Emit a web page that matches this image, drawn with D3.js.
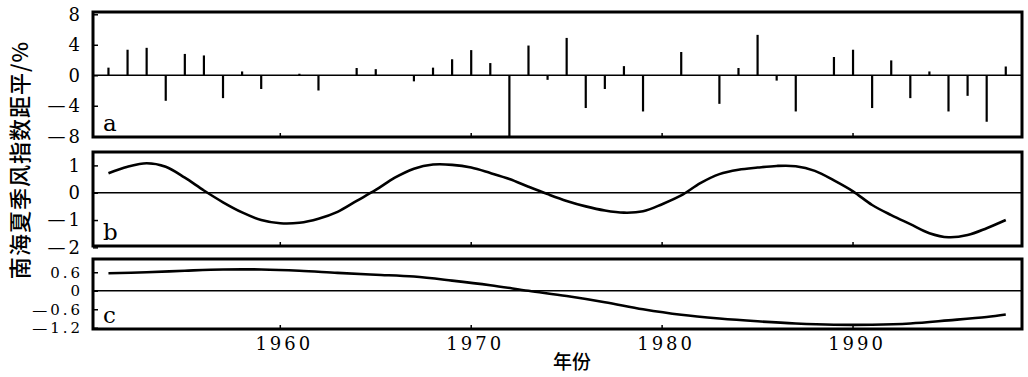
<!DOCTYPE html>
<html>
<head>
<meta charset="utf-8">
<script src="https://cdn.jsdelivr.net/npm/d3@7"></script>
<style>
  html, body { margin: 0; padding: 0; background: #fff; }
  svg { display: block; }
  .num { font-family: "DejaVu Serif", "Liberation Serif", serif; font-size: 18px; fill: #000; letter-spacing: 3px; }
  .cjk { font-family: "Noto Sans CJK SC", sans-serif; font-weight: 500; fill: #000; }
</style>
</head>
<body>
<script>
// panel a: yearly anomaly bars (%)
const barYears = [1951, 1952, 1953, 1954, 1955, 1956, 1957, 1958, 1959, 1960,
  1961, 1962, 1963, 1964, 1965, 1966, 1967, 1968, 1969, 1970,
  1971, 1972, 1973, 1974, 1975, 1976, 1977, 1978, 1979, 1980,
  1981, 1982, 1983, 1984, 1985, 1986, 1987, 1988, 1989, 1990,
  1991, 1992, 1993, 1994, 1995, 1996, 1997, 1998];
const barValues = [1.0, 3.35, 3.6, -3.35, 2.8, 2.6, -3.0, 0.5, -1.8, -0.1,
  0.2, -2.0, 0, 0.95, 0.8, 0, -0.8, 1.0, 2.1, 3.3,
  1.6, -8.0, 3.9, -0.6, 4.9, -4.3, -1.8, 1.2, -4.75, 0,
  3.05, 0, -3.75, 0.95, 5.3, -0.7, -4.75, 0, 2.4, 3.35,
  -4.3, 1.95, -3.0, 0.5, -4.75, -2.7, -6.1, 1.15];

// panel b: interdecadal component
const bYears = barYears;
const bValues = [0.71, 0.95, 1.08, 0.95, 0.55, 0.08, -0.35, -0.72, -1.0, -1.12,
  -1.1, -0.95, -0.7, -0.3, 0.1, 0.55, 0.88, 1.03, 1.02, 0.92,
  0.72, 0.5, 0.22, -0.05, -0.3, -0.5, -0.65, -0.73, -0.68, -0.42,
  -0.1, 0.35, 0.68, 0.84, 0.92, 0.98, 0.97, 0.8, 0.45, 0.05,
  -0.45, -0.82, -1.15, -1.48, -1.63, -1.55, -1.3, -1.0];

// panel c: long-term trend
const cYears = [1951, 1953, 1955, 1957, 1959, 1961, 1963, 1965, 1967, 1969,
  1971, 1973, 1975, 1977, 1979, 1981, 1983, 1985, 1987, 1989,
  1991, 1993, 1995, 1997, 1998];
const cValues = [0.57, 0.6, 0.65, 0.69, 0.69, 0.65, 0.58, 0.52, 0.46, 0.33,
  0.18, 0.0, -0.17, -0.37, -0.6, -0.78, -0.9, -0.99, -1.06, -1.1,
  -1.1, -1.06, -0.96, -0.85, -0.77];

const xTicks = [1960, 1970, 1980, 1990];
const aTicks = [8, 4, 0, -4, -8];
const bTicks = [1, 0, -1, -2];
const cTicks = [0.6, 0, -0.6, -1.2];

const yLabel = '南海夏季风指数距平/%';
const xLabel = '年份';

const W = 1028, H = 377;
const left = 93, right = 1022;

const svg = d3.select('body').append('svg')
  .attr('width', W).attr('height', H);

const x = d3.scaleLinear().domain([1950.19, 1998.85]).range([left, right]);

// panels: frame top/bottom in px and value domain
const panels = [
  { key: 'a', top: 12, bottom: 137, domain: [-8.1, 8.3], ticks: aTicks, fs: 18 },
  { key: 'b', top: 152, bottom: 246, domain: [-1.95, 1.49], ticks: bTicks, fs: 18 },
  { key: 'c', top: 259, bottom: 329, domain: [-1.24, 1.03], ticks: cTicks, fs: 15 }
];

const fmt = v => v < 0 ? '—' + String(-v) : String(v);

panels.forEach(p => {
  p.y = d3.scaleLinear().domain(p.domain).range([p.bottom, p.top]);
  const g = svg.append('g');

  // zero line
  g.append('line')
    .attr('x1', left).attr('x2', right)
    .attr('y1', p.y(0)).attr('y2', p.y(0))
    .attr('stroke', '#000').attr('stroke-width', 1.5);

  // y axis: inward ticks, labels on the left
  const ax = g.append('g')
    .attr('transform', `translate(${left},0)`)
    .call(d3.axisLeft(p.y).tickValues(p.ticks).tickSize(-5).tickPadding(10).tickFormat(fmt));
  ax.attr('font-family', null).attr('font-size', null);
  ax.select('.domain').remove();
  ax.selectAll('line').attr('stroke', '#000').attr('stroke-width', 1.5);
  ax.selectAll('text').attr('class', 'num').attr('fill', '#000')
    .style('font-size', p.fs + 'px');

  // x ticks inside bottom edge
  g.selectAll('.xt').data(xTicks).enter().append('line')
    .attr('x1', d => x(d)).attr('x2', d => x(d))
    .attr('y1', p.bottom).attr('y2', p.bottom - 4)
    .attr('stroke', '#000').attr('stroke-width', 1.5);

  p.g = g;
});

// bars (panel a)
const pa = panels[0];
pa.g.selectAll('.bar').data(barYears).enter().append('line')
  .attr('x1', d => x(d)).attr('x2', d => x(d))
  .attr('y1', pa.y(0))
  .attr('y2', (d, i) => pa.y(barValues[i]))
  .attr('stroke', '#000').attr('stroke-width', 2.2);

// curves (panels b, c)
const line = (p) => d3.line()
  .x(d => x(d[0]))
  .y(d => p.y(d[1]))
  .curve(d3.curveCatmullRom);

panels[1].g.append('path')
  .datum(d3.zip(bYears, bValues))
  .attr('fill', 'none').attr('stroke', '#000').attr('stroke-width', 2.6)
  .attr('d', line(panels[1]));

panels[2].g.append('path')
  .datum(d3.zip(cYears, cValues))
  .attr('fill', 'none').attr('stroke', '#000').attr('stroke-width', 2.6)
  .attr('d', line(panels[2]));

// frames and panel letters
panels.forEach(p => {
  svg.append('rect')
    .attr('x', left).attr('y', p.top)
    .attr('width', right - left).attr('height', p.bottom - p.top)
    .attr('fill', 'none').attr('stroke', '#000').attr('stroke-width', 3);
  svg.append('text')
    .attr('class', 'num')
    .attr('x', left + 10).attr('y', p.bottom - 6)
    .style('font-size', '23px')
    .text(p.key);
});

// x tick labels
svg.selectAll('.xl').data(xTicks).enter().append('text')
  .attr('class', 'num')
  .attr('x', d => x(d) + 4).attr('y', 350)
  .attr('text-anchor', 'middle')
  .text(d => d);

svg.append('text')
  .attr('class', 'cjk')
  .attr('x', 572).attr('y', 369)
  .attr('text-anchor', 'middle')
  .attr('font-size', 19)
  .text(xLabel);

svg.append('text')
  .attr('class', 'cjk')
  .attr('transform', 'translate(28,160) rotate(-90)')
  .attr('text-anchor', 'middle')
  .attr('font-size', 22)
  .attr('letter-spacing', 1)
  .text(yLabel);
</script>
</body>
</html>
